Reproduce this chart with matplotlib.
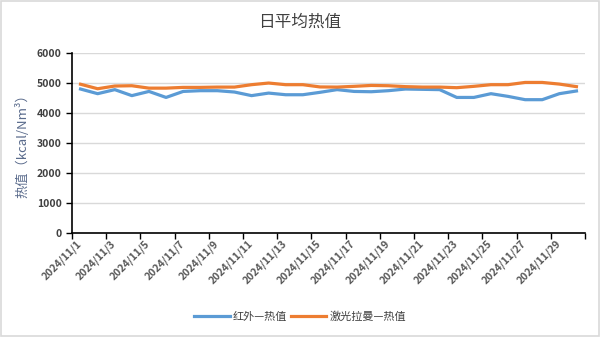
import matplotlib
matplotlib.use("Agg")
import matplotlib.pyplot as plt
from matplotlib.patches import Rectangle

plt.rcParams['font.family'] = ['Noto Sans CJK SC', 'DejaVu Sans']

dates = [f"2024/11/{d}" for d in range(1, 31)]
infrared = [4800, 4645, 4780, 4580, 4720, 4520, 4720, 4745, 4745, 4700,
            4580, 4665, 4610, 4610, 4690, 4780, 4720, 4710, 4745, 4800,
            4790, 4780, 4520, 4520, 4645, 4555, 4445, 4445, 4645, 4735]
raman = [4960, 4810, 4900, 4910, 4830, 4830, 4855, 4855, 4865, 4865,
         4945, 5000, 4945, 4945, 4870, 4865, 4890, 4920, 4910, 4880,
         4865, 4865, 4845, 4890, 4945, 4945, 5020, 5020, 4965, 4880]
series_names = ["红外—热值", "激光拉曼—热值"]
yticks = [0, 1000, 2000, 3000, 4000, 5000, 6000]

fig = plt.figure(figsize=(6, 3.37), dpi=100)
fig.patches.append(Rectangle((0.002, 0.003), 0.996, 0.994, transform=fig.transFigure,
                             fill=False, edgecolor='#d9d9d9', linewidth=1.2))

ax = fig.add_axes([0.12, 0.3086, 0.855, 0.534])
x = list(range(len(dates)))
l1, = ax.plot(x, infrared, color='#5b9bd5', lw=2.3, solid_joinstyle='round')
l2, = ax.plot(x, raman, color='#ed7d31', lw=2.3, solid_joinstyle='round')

ax.set_xlim(-0.5, len(dates) - 0.5)
ax.set_ylim(0, 6000)
ax.set_yticks(yticks)
ax.set_yticklabels([str(v) for v in yticks])
ax.grid(axis='y', color='#d9d9d9', lw=1.0)
ax.set_axisbelow(True)

# category boundaries every two days carry the tick marks
ax.set_xticks([i - 0.5 for i in range(0, len(dates) + 1, 2)])
ax.set_xticklabels([])
ax.set_xticks([i - 0.25 for i in range(0, len(dates), 2)], minor=True)
ax.set_xticklabels(dates[::2], minor=True, rotation=45, ha='right',
                   rotation_mode='anchor', fontsize=7.5, fontweight='bold', color='#595959')
ax.tick_params(axis='x', which='major', direction='out', length=4, width=1, color='black')
ax.tick_params(axis='x', which='minor', length=0, pad=4)
ax.tick_params(axis='y', direction='out', length=4, width=1, color='black',
               labelsize=7.5, labelcolor='#404040')
for lab in ax.get_yticklabels():
    lab.set_fontweight('bold')

for s in ['top', 'right']:
    ax.spines[s].set_visible(False)
ax.spines['left'].set_color('black')
ax.spines['bottom'].set_color('black')
ax.spines['left'].set_linewidth(1.2)
ax.spines['bottom'].set_linewidth(1.2)

ax.set_ylabel("热值（kcal/Nm³）", fontsize=9.5, color='#5a6b8c', labelpad=5)

fig.text(0.5, 0.935, "日平均热值", ha='center', va='center', fontsize=12, color='#404040')

fig.legend([l1, l2], series_names, loc='center', bbox_to_anchor=(0.5, 0.06), ncol=2,
           frameon=False, fontsize=8, handlelength=3.2, columnspacing=0.3, handletextpad=0.3,
           labelcolor='#404040')

fig.savefig("out.png", dpi=100)
